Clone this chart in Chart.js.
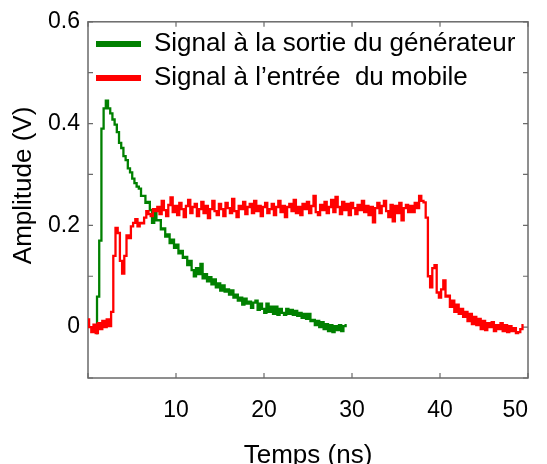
<!DOCTYPE html>
<html>
<head>
<meta charset="utf-8">
<script src="https://cdn.jsdelivr.net/npm/chart.js@4.4.1/dist/chart.umd.min.js"></script>
<style>
  html, body { margin: 0; padding: 0; background: #ffffff; }
  #wrap { width: 547px; height: 464px; }
</style>
</head>
<body>
<div id="wrap"><canvas id="c" width="547" height="464"></canvas></div>
<script>
// ---- Data ----
const seriesNames = ["Signal à la sortie du générateur", "Signal à l’entrée  du mobile"];
const xTitle = "Temps (ns)";
const yTitle = "Amplitude (V)";
const sampleStep = 0.25;          // ns between samples
const greenStart = 0.9;           // ns, first sample of the generator signal
const redStart = 0.0;             // ns, first sample of the mobile-input signal

const greenValues = [
  -0.012, 0.060, 0.170, 0.390, 0.430, 0.445, 0.430, 0.420, 0.408, 0.398,
  0.383, 0.362, 0.352, 0.336, 0.328, 0.312, 0.304, 0.292, 0.283, 0.276,
  0.272, 0.258, 0.258, 0.244, 0.246, 0.230, 0.205, 0.230, 0.210, 0.210,
  0.192, 0.194, 0.178, 0.182, 0.165, 0.172, 0.156, 0.162, 0.145, 0.150,
  0.136, 0.138, 0.122, 0.130, 0.112, 0.100, 0.116, 0.104, 0.124, 0.096,
  0.104, 0.090, 0.098, 0.084, 0.094, 0.078, 0.086, 0.072, 0.082, 0.070,
  0.074, 0.064, 0.072, 0.058, 0.064, 0.052, 0.058, 0.044, 0.056, 0.046,
  0.050, 0.038, 0.048, 0.052, 0.034, 0.046, 0.036, 0.028, 0.046, 0.030,
  0.040, 0.026, 0.040, 0.024, 0.036, 0.028, 0.024, 0.036, 0.026, 0.034,
  0.024, 0.032, 0.022, 0.028, 0.018, 0.026, 0.016, 0.026, 0.012, 0.014,
  0.004, 0.012, 0.000, 0.010, -0.004, 0.006, -0.008, 0.004, -0.010, 0.002,
  -0.006, 0.004, -0.008, 0.002, 0.004
];

const redValues = [
  0.015, 0.000, -0.010, 0.005, -0.012, 0.008, -0.004, 0.012, 0.000, 0.015,
  0.002, 0.030, 0.140, 0.195, 0.185, 0.130, 0.105, 0.140, 0.180, 0.175,
  0.198, 0.205, 0.212, 0.198, 0.205, 0.204, 0.215, 0.228, 0.222, 0.218,
  0.232, 0.228, 0.236, 0.222, 0.248, 0.230, 0.218, 0.240, 0.255, 0.226,
  0.238, 0.220, 0.244, 0.232, 0.216, 0.238, 0.250, 0.224, 0.236, 0.242,
  0.218, 0.232, 0.246, 0.224, 0.238, 0.214, 0.232, 0.248, 0.228, 0.220,
  0.242, 0.232, 0.218, 0.244, 0.234, 0.224, 0.252, 0.228, 0.216, 0.238,
  0.232, 0.246, 0.222, 0.236, 0.242, 0.224, 0.248, 0.228, 0.238, 0.218,
  0.236, 0.244, 0.224, 0.232, 0.242, 0.220, 0.236, 0.248, 0.226, 0.238,
  0.216, 0.236, 0.242, 0.228, 0.250, 0.224, 0.236, 0.220, 0.242, 0.232,
  0.246, 0.224, 0.238, 0.258, 0.226, 0.220, 0.240, 0.230, 0.246, 0.224,
  0.236, 0.250, 0.226, 0.256, 0.236, 0.222, 0.246, 0.230, 0.242, 0.220,
  0.244, 0.234, 0.222, 0.240, 0.230, 0.248, 0.226, 0.238, 0.220, 0.236,
  0.206, 0.234, 0.244, 0.224, 0.238, 0.248, 0.228, 0.216, 0.240, 0.208,
  0.238, 0.224, 0.244, 0.210, 0.234, 0.240, 0.226, 0.238, 0.226, 0.244,
  0.234, 0.258, 0.248, 0.245, 0.215, 0.100, 0.078, 0.116, 0.122, 0.068,
  0.058, 0.074, 0.092, 0.060, 0.062, 0.040, 0.052, 0.030, 0.044, 0.026,
  0.036, 0.020, 0.030, 0.012, 0.026, 0.006, 0.020, 0.004, 0.016, -0.004,
  0.012, -0.006, 0.008, 0.000, 0.010, -0.008, 0.004, -0.004, 0.008, -0.008,
  0.004, -0.010, 0.002, -0.008, -0.002, -0.012, -0.010, -0.004, 0.004
];

const xTickValues = [10, 20, 30, 40, 50];
const yTickLabels = ["0", "0.2", "0.4", "0.6"];

// ---- Build chart ----
function toPoints(values, start) {
  return values.map((v, i) => ({ x: +(start + i * sampleStep).toFixed(3), y: v }));
}

Chart.defaults.font.family = "'Liberation Sans', Arial, sans-serif";
Chart.defaults.color = "#000000";

const framePlugin = {
  id: "frame",
  beforeDatasetsDraw(chart) {
    const { ctx, chartArea: a, scales: { x, y } } = chart;
    ctx.save();
    ctx.strokeStyle = "#6a6a6a";
    ctx.lineWidth = 1.5;
    ctx.strokeRect(a.left, a.top, a.right - a.left, a.bottom - a.top);
    ctx.lineWidth = 1.2;
    ctx.beginPath();
    x.ticks.forEach(t => {
      const px = x.getPixelForValue(t.value);
      ctx.moveTo(px, a.bottom); ctx.lineTo(px, a.bottom - 5);
      ctx.moveTo(px, a.top); ctx.lineTo(px, a.top + 5);
    });
    y.ticks.forEach(t => {
      const py = y.getPixelForValue(t.value);
      ctx.moveTo(a.left, py); ctx.lineTo(a.left + 5, py);
      ctx.moveTo(a.right, py); ctx.lineTo(a.right - 5, py);
    });
    ctx.stroke();
    ctx.restore();
  }
};

new Chart(document.getElementById("c"), {
  type: "line",
  data: {
    datasets: [
      {
        label: seriesNames[0],
        data: toPoints(greenValues, greenStart),
        borderColor: "#008000",
        backgroundColor: "#008000",
        borderWidth: 2.3,
        pointRadius: 0,
        stepped: "middle",
        order: 1
      },
      {
        label: seriesNames[1],
        data: toPoints(redValues, redStart),
        borderColor: "#ff0000",
        backgroundColor: "#ff0000",
        borderWidth: 2.3,
        pointRadius: 0,
        stepped: "middle",
        order: 0
      }
    ]
  },
  options: {
    responsive: false,
    animation: false,
    events: [],
    layout: { padding: { top: 20, right: 4, left: 0, bottom: 0 } },
    plugins: {
      tooltip: { enabled: false },
      legend: {
        position: "chartArea",
        align: "start",
        title: { display: true, text: " ", font: { size: 10 }, padding: { top: 11, bottom: 0 } },
        labels: {
          boxWidth: 45,
          boxHeight: 6,
          padding: 8,
          font: { size: 26 },
          color: "#000000",
          sort: (a, b) => a.datasetIndex - b.datasetIndex,
          generateLabels(chart) {
            const items = Chart.defaults.plugins.legend.labels.generateLabels(chart);
            items.forEach(it => { it.lineWidth = 0; it.strokeStyle = it.fillStyle; });
            return items;
          }
        }
      }
    },
    scales: {
      x: {
        type: "linear",
        min: 0,
        max: 50,
        afterFit(s) { s.height = 86; },
        afterBuildTicks(s) { s.ticks = [0].concat(xTickValues).map(v => ({ value: v })); },
        grid: { display: false, drawTicks: false },
        border: { display: false },
        ticks: {
          align: "inner",
          padding: 19,
          font: { size: 23 },
          color: "#000000",
          callback: (v) => (xTickValues.includes(v) ? String(v) : "")
        },
        title: {
          display: true,
          text: xTitle,
          font: { size: 26 },
          color: "#000000",
          padding: { top: 0, bottom: -7 }
        }
      },
      y: {
        type: "linear",
        min: -0.1,
        max: 0.6,
        afterFit(s) { s.width = 88; },
        grid: { display: false, drawTicks: false },
        border: { display: false },
        ticks: {
          stepSize: 0.1,
          padding: 8,
          font: { size: 23 },
          color: "#000000",
          callback: (v) => {
            const k = Math.round(v * 10);
            if (k < 0 || k % 2 !== 0) return "";
            return yTickLabels[k / 2];
          }
        },
        title: {
          display: true,
          text: "\u00A0\u00A0\u00A0\u00A0" + yTitle,
          font: { size: 26 },
          color: "#000000",
          padding: { top: 8, bottom: 0 }
        }
      }
    }
  },
  plugins: [framePlugin]
});
</script>
</body>
</html>
